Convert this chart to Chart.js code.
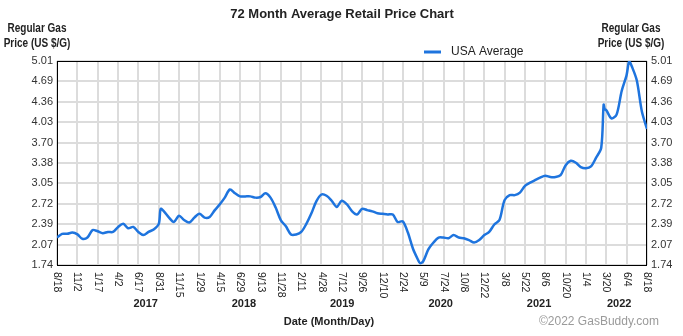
<!DOCTYPE html>
<html>
<head>
<meta charset="utf-8">
<script src="https://cdn.jsdelivr.net/npm/chart.js@4/dist/chart.umd.min.js"></script>
<style>
  html, body { margin: 0; padding: 0; background: #fff; }
  canvas { display: block; }
</style>
</head>
<body>
<canvas id="gas-chart" width="683" height="336"></canvas>
<script>
// Chart data
const chartTitle = '72 Month Average Retail Price Chart';
const seriesName = 'USA Average';
const startDate = '2016-08-18';
const endDate = '2022-08-18';

const dates = [
    '2016-08-18', '2016-09-06', '2016-09-25', '2016-10-14', '2016-11-02', '2016-11-20', '2016-12-09', '2016-12-28',
    '2017-01-16', '2017-02-04', '2017-02-23', '2017-03-14', '2017-04-02', '2017-04-21', '2017-05-09', '2017-05-28',
    '2017-06-16', '2017-07-05', '2017-07-24', '2017-08-12', '2017-08-31', '2017-09-07', '2017-09-19', '2017-10-08',
    '2017-10-26', '2017-11-14', '2017-12-03', '2017-12-22',
    '2018-01-10', '2018-01-29', '2018-02-17', '2018-03-08', '2018-03-27', '2018-04-14', '2018-05-03', '2018-05-22',
    '2018-06-10', '2018-06-29', '2018-07-18', '2018-08-06', '2018-08-25', '2018-09-13', '2018-10-01', '2018-10-20',
    '2018-11-08', '2018-11-27', '2018-12-16',
    '2019-01-04', '2019-01-23', '2019-02-11', '2019-03-02', '2019-03-20', '2019-04-08', '2019-04-27', '2019-05-16',
    '2019-06-04', '2019-06-23', '2019-07-11', '2019-07-31', '2019-08-19', '2019-09-06', '2019-09-25', '2019-10-14',
    '2019-11-02', '2019-11-21', '2019-12-10', '2019-12-29',
    '2020-01-17', '2020-02-04', '2020-02-23', '2020-03-13', '2020-04-01', '2020-04-20', '2020-04-27', '2020-05-09',
    '2020-05-28', '2020-06-16', '2020-07-05', '2020-07-23', '2020-08-11', '2020-08-30', '2020-09-18', '2020-10-07',
    '2020-10-26', '2020-11-14', '2020-12-03', '2020-12-22',
    '2021-01-09', '2021-01-28', '2021-02-16', '2021-03-07', '2021-03-26', '2021-04-14', '2021-05-03', '2021-05-22',
    '2021-06-10', '2021-06-28', '2021-07-17', '2021-08-05', '2021-08-24', '2021-09-12', '2021-10-01', '2021-10-20',
    '2021-11-08', '2021-11-27', '2021-12-15',
    '2022-01-03', '2022-01-22', '2022-02-10', '2022-03-01', '2022-03-10', '2022-03-14', '2022-03-20', '2022-04-08',
    '2022-04-27', '2022-05-16', '2022-06-03', '2022-06-13', '2022-06-22', '2022-07-11', '2022-07-30', '2022-08-18'
];

const prices = [
    2.18, 2.24, 2.24, 2.26, 2.23, 2.16, 2.18, 2.30,
    2.28, 2.25, 2.27, 2.27, 2.35, 2.40, 2.33, 2.35,
    2.27, 2.22, 2.27, 2.31, 2.40, 2.64, 2.60, 2.50,
    2.43, 2.53, 2.46, 2.42,
    2.50, 2.56, 2.50, 2.51, 2.62, 2.71, 2.82, 2.95,
    2.89, 2.84, 2.84, 2.84, 2.82, 2.83, 2.89, 2.82,
    2.66, 2.46, 2.36,
    2.23, 2.23, 2.27, 2.40, 2.56, 2.76, 2.87, 2.85,
    2.77, 2.67, 2.77, 2.71, 2.60, 2.55, 2.64, 2.62,
    2.60, 2.57, 2.56, 2.55,
    2.55, 2.43, 2.44, 2.26, 2.00, 1.82, 1.77, 1.80,
    1.99, 2.10, 2.18, 2.18, 2.17, 2.22, 2.18, 2.17,
    2.14, 2.10, 2.14, 2.22,
    2.27, 2.39, 2.46, 2.78, 2.86, 2.86, 2.90, 3.01,
    3.06, 3.10, 3.14, 3.17, 3.15, 3.15, 3.18, 3.34,
    3.41, 3.38, 3.31,
    3.29, 3.32, 3.46, 3.62, 4.31, 4.24, 4.22, 4.09,
    4.15, 4.53, 4.78, 5.01, 4.93, 4.70, 4.20, 3.92
];

const xTickLabels = ['8/18', '11/2', '1/17', '4/2', '6/17', '8/31', '11/15', '1/29', '4/15', '6/29',
    '9/13', '11/28', '2/11', '4/28', '7/12', '9/26', '12/10', '2/24', '5/9', '7/24',
    '10/8', '12/22', '3/8', '5/22', '8/6', '10/20', '1/4', '3/20', '6/4', '8/18'];
const yearLabels = ['2017', '2018', '2019', '2020', '2021', '2022'];
const yTickLabels = ['1.74', '2.07', '2.39', '2.72', '3.05', '3.38', '3.70', '4.03', '4.36', '4.69', '5.01'];
const yAxisTitle = ['Regular Gas', 'Price (US $/G)'];
const xAxisTitle = 'Date (Month/Day)';
const credit = '\u00A92022 GasBuddy.com';

const FONT = '"Liberation Sans", Arial, sans-serif';
const LINE_COLOR = 'rgb(30, 116, 222)';

// helpers
const dayOf = s => (Date.parse(s) - Date.parse(startDate)) / 864e5;
const totalDays = dayOf(endDate);
const yMin = parseFloat(yTickLabels[0]);
const yMax = parseFloat(yTickLabels[yTickLabels.length - 1]);
const xTickDays = xTickLabels.map((_, i) => i * totalDays / (xTickLabels.length - 1));
const yTickValues = yTickLabels.map((_, i) => yMin + i * (yMax - yMin) / (yTickLabels.length - 1));

const points = prices.map((p, i) => ({ x: dayOf(dates[i]), y: p }));

// condensed text, there is no narrow font installed
function narrowText(ctx, text, x, y) {
    ctx.save();
    ctx.translate(x, y);
    ctx.scale(0.8, 1);
    ctx.fillText(text, 0, 0);
    ctx.restore();
}

// texts around the plot that Chart.js has no slot for
const decorations = {
    id: 'decorations',
    beforeDatasetsDraw(chart) {
        const { ctx, chartArea: a } = chart;
        ctx.save();
        ctx.strokeStyle = '#000';
        ctx.lineWidth = 1;
        ctx.strokeRect(a.left + 0.5, a.top + 0.5, a.right - a.left - 1, a.bottom - a.top);
        ctx.restore();
    },
    afterDraw(chart) {
        const { ctx, chartArea: a, scales } = chart;
        const x = scales.x;
        ctx.save();
        ctx.fillStyle = '#222';
        ctx.textBaseline = 'middle';

        // main title
        ctx.font = 'bold 13px ' + FONT;
        ctx.textAlign = 'center';
        ctx.fillText(chartTitle, 342, 14);

        // y axis titles, both sides
        ctx.font = 'bold 12.5px ' + FONT;
        yAxisTitle.forEach((t, i) => {
            narrowText(ctx, t, 37, 29 + i * 15);
            narrowText(ctx, t, 631, 29 + i * 15);
        });

        // legend
        ctx.strokeStyle = LINE_COLOR;
        ctx.lineWidth = 3;
        ctx.beginPath();
        ctx.moveTo(424, 52);
        ctx.lineTo(441, 52);
        ctx.stroke();
        ctx.font = '12px ' + FONT;
        ctx.textAlign = 'left';
        ctx.fillText(seriesName, 451, 52);

        // x tick labels, rotated to read downwards
        ctx.font = '10.5px ' + FONT;
        xTickLabels.forEach((label, i) => {
            ctx.save();
            ctx.translate(x.getPixelForValue(xTickDays[i]), a.bottom + 7);
            ctx.rotate(Math.PI / 2);
            ctx.textAlign = 'left';
            ctx.fillText(label, 0, 0);
            ctx.restore();
        });

        // year labels, centred on the part of each year inside the axis
        ctx.font = 'bold 11px ' + FONT;
        ctx.textAlign = 'center';
        yearLabels.forEach(y => {
            const from = Math.max(0, dayOf(y + '-01-01'));
            const to = Math.min(totalDays, dayOf(y + '-12-31'));
            ctx.fillText(y, x.getPixelForValue((from + to) / 2) + 3, a.bottom + 39);
        });

        // x axis title and credit
        ctx.fillText(xAxisTitle, 329, 322);
        ctx.fillStyle = '#9a9a9a';
        ctx.font = '12px ' + FONT;
        ctx.textAlign = 'left';
        ctx.fillText(credit, 539, 322);
        ctx.restore();
    }
};

const yScale = (position, width) => ({
    position: position,
    min: yMin,
    max: yMax,
    afterBuildTicks: axis => { axis.ticks = yTickValues.map(v => ({ value: v })); },
    afterFit: axis => { axis.width = width; },
    grid: { color: '#dcdcdc', lineWidth: 2, drawTicks: false, display: position === 'left' },
    border: { display: false },
    ticks: {
        padding: 4,
        color: '#333',
        font: { family: FONT, size: 11 },
        callback: (v, i) => yTickLabels[i]
    }
});

new Chart(document.getElementById('gas-chart'), {
    type: 'line',
    data: {
        datasets: [{
            label: seriesName,
            data: points,
            borderColor: LINE_COLOR,
            borderWidth: 2.5,
            pointRadius: 0,
            tension: 0.3,
            fill: false
        }]
    },
    options: {
        responsive: false,
        animation: false,
        devicePixelRatio: 1,
        layout: { padding: { top: 61, left: 0, right: 0, bottom: 0 } },
        plugins: {
            legend: { display: false },
            title: { display: false },
            tooltip: { enabled: false }
        },
        scales: {
            x: {
                type: 'linear',
                min: 0,
                max: totalDays,
                afterBuildTicks: axis => { axis.ticks = xTickDays.map(v => ({ value: v })); },
                afterFit: axis => { axis.height = 71; },
                grid: { color: '#dcdcdc', lineWidth: 2, drawTicks: false },
                border: { display: false },
                ticks: { display: false }
            },
            y: yScale('left', 57),
            y2: yScale('right', 36)
        }
    },
    plugins: [decorations]
});
</script>
</body>
</html>
